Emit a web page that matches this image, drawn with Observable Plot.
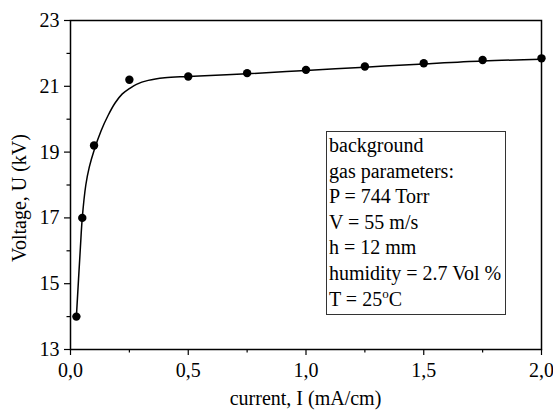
<!DOCTYPE html>
<html>
<head>
<meta charset="utf-8">
<script src="https://cdn.jsdelivr.net/npm/d3@7"></script>
<script src="https://cdn.jsdelivr.net/npm/@observablehq/plot@0.6"></script>
<style>
  html, body { margin: 0; padding: 0; background: #fff; }
  #chart { width: 553px; height: 415px; }
  #chart svg, #chart svg text { font-family: "Liberation Serif", "Times New Roman", Times, serif !important; }
</style>
</head>
<body>
<div id="chart"></div>
<script>
// Measured points
const currentI = [0.025, 0.05, 0.1, 0.25, 0.5, 0.75, 1.0, 1.25, 1.5, 1.75, 2.0];
const voltageU = [14.0, 17.0, 19.2, 21.2, 21.3, 21.4, 21.5, 21.6, 21.7, 21.8, 21.85];

// Fitted curve
const fitI = [0.025, 0.042, 0.05, 0.065, 0.08, 0.1, 0.13, 0.16, 0.19, 0.22, 0.25, 0.28, 0.33, 0.4, 0.5, 0.75, 1.0, 1.25, 1.5, 1.75, 2.0];
const fitU = [14.0, 16.1, 17.0, 18.0, 18.55, 19.05, 19.65, 20.12, 20.5, 20.77, 20.93, 21.06, 21.18, 21.26, 21.3, 21.38, 21.48, 21.58, 21.68, 21.77, 21.82];

// Axes
const xTicks = [0, 0.5, 1.0, 1.5, 2.0];
const xTickLabels = ["0,0", "0,5", "1,0", "1,5", "2,0"];
const xMinorTicks = [0.25, 0.75, 1.25, 1.75];
const yTicks = [13, 15, 17, 19, 21, 23];
const yMinorTicks = [14, 16, 18, 20, 22];
const xLabel = "current, I (mA/cm)";
const yLabel = "Voltage, U (kV)";

// Annotation box lines
const boxLines = ["background", "gas parameters:", "P = 744 Torr", "V = 55 m/s", "h = 12 mm", "humidity = 2.7 Vol %"];

const points = currentI.map((x, i) => ({x, y: voltageU[i]}));
const fit = fitI.map((x, i) => ({x, y: fitU[i]}));

const FONT = "Liberation Serif, Times New Roman, serif";

const chart = Plot.plot({
  width: 553,
  height: 415,
  marginLeft: 70,
  marginRight: 12,
  marginTop: 20,
  marginBottom: 66,
  style: {fontFamily: FONT, fontSize: "20px", background: "#fff", color: "#000", overflow: "visible"},
  x: {domain: [0, 2]},
  y: {domain: [13, 23]},
  marks: [
    Plot.axisX(xTicks, {tickSize: 6, tickPadding: 7, tickFormat: (d) => xTickLabels[xTicks.indexOf(d)], label: null, fontSize: 20, fontFamily: FONT, strokeWidth: 1.2}),
    Plot.axisX(xMinorTicks, {tickSize: 3.5, tickFormat: () => "", label: null, strokeWidth: 1.2}),
    Plot.axisY(yTicks, {tickSize: 6, tickPadding: 5, tickFormat: (d) => String(d), label: null, fontSize: 20, fontFamily: FONT, strokeWidth: 1.2}),
    Plot.axisY(yMinorTicks, {tickSize: 3.5, tickFormat: () => "", label: null, strokeWidth: 1.2}),
    Plot.line(fit, {x: "x", y: "y", stroke: "#000", strokeWidth: 1.5, curve: "catmull-rom"}),
    Plot.dot(points, {x: "x", y: "y", r: 4.2, fill: "#000", stroke: "none"}),
    Plot.frame({stroke: "#000", strokeWidth: 1.5})
  ]
});

document.getElementById("chart").appendChild(chart);

const svg = d3.select(chart);

// Axis titles
svg.append("text")
  .attr("x", 305.5).attr("y", 405)
  .attr("text-anchor", "middle")
  .attr("font-size", 20).attr("fill", "#000")
  .text(xLabel);

svg.append("text")
  .attr("transform", "translate(19,198) rotate(-90)")
  .attr("text-anchor", "middle").attr("dy", "0.35em")
  .attr("font-size", 20).attr("fill", "#000")
  .text(yLabel);

// Annotation box
const box = svg.append("g").attr("text-anchor", "start");
box.append("rect")
  .attr("x", 326.5).attr("y", 131.5).attr("width", 179).attr("height", 183)
  .attr("fill", "#fff").attr("stroke", "#333").attr("stroke-width", 1);

const lineGap = 25.6;
boxLines.forEach((t, i) => {
  box.append("text")
    .attr("x", 329).attr("y", 152 + i * lineGap)
    .attr("text-anchor", "start")
    .attr("font-size", 20).attr("fill", "#000")
    .text(t);
});
const last = box.append("text")
  .attr("x", 329).attr("y", 152 + boxLines.length * lineGap)
  .attr("text-anchor", "start")
  .attr("font-size", 20).attr("fill", "#000");
last.append("tspan").text("T = 25");
last.append("tspan").attr("font-size", 13).attr("dy", -8).text("o");
last.append("tspan").attr("dy", 8).text("C");
</script>
</body>
</html>
